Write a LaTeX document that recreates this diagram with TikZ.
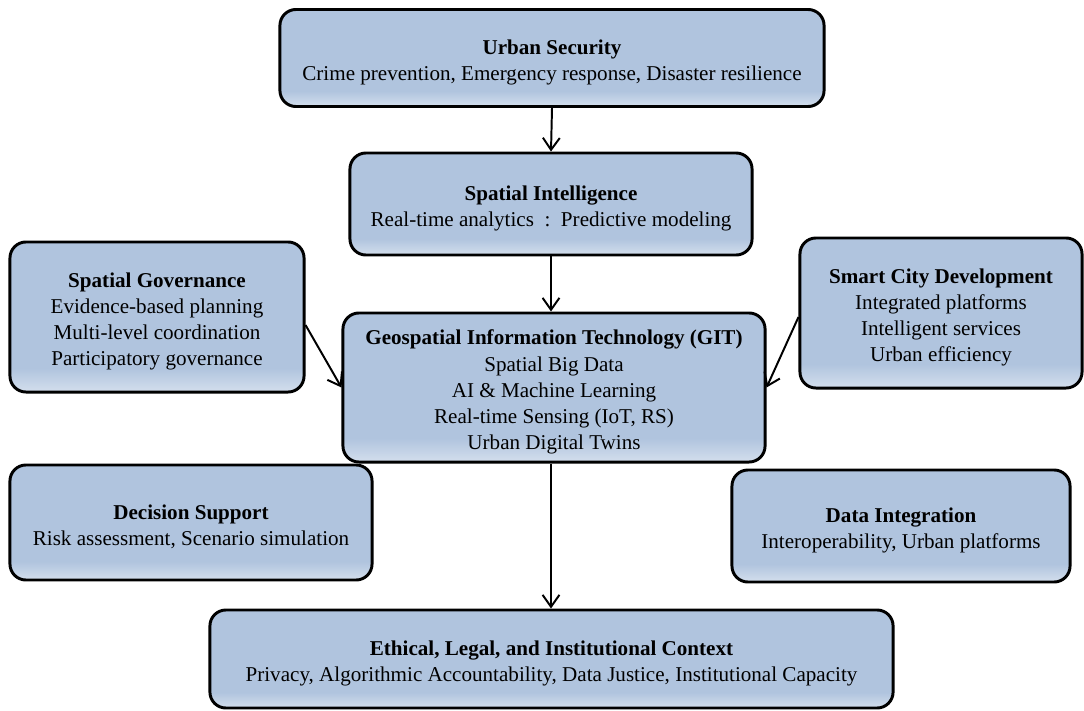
\documentclass[tikz,border=0pt]{standalone}
\usepackage{fontspec}
\setmainfont{Liberation Serif}
\newfontfamily\boxfont{Liberation Serif}
\usepackage{tikz}
\usetikzlibrary{arrows.meta}
\definecolor{boxblue}{HTML}{B0C4DE}
\pgfdeclareverticalshading{boxshade}{100bp}{color(0bp)=(boxblue!55!white); color(25bp)=(boxblue!55!white); color(33bp)=(boxblue); color(100bp)=(boxblue)}
\newcommand\boxtitle[1]{\rule{0pt}{17pt}\textbf{#1}}

\begin{document}
\begin{tikzpicture}[x=0.025cm, y=-0.025cm,
  box/.style={draw=black, line width=2.1pt, rounded corners=0.4cm, shading=boxshade, align=center, inner sep=0pt, font=\boxfont\fontsize{15}{18.6}\selectfont},
  link/.style={draw=black, line width=1.4pt, -{Straight Barb[length=8.5pt, width=12pt, line width=1.4pt]}}]
  \useasboundingbox (0,0) rectangle (1084,710);
  \node[box, minimum width=13.6cm, minimum height=2.425cm] (sec) at (552,58) {\boxtitle{Urban Security}\\Crime prevention, Emergency response, Disaster resilience};
  \node[box, minimum width=10.05cm, minimum height=2.55cm] (intel) at (551,204) {\boxtitle{Spatial Intelligence}\\Real-time analytics\ \ :\ \ Predictive modeling};
  \node[box, minimum width=7.35cm, minimum height=3.75cm] (gov) at (157,317) {\boxtitle{Spatial Governance}\\Evidence-based planning\\Multi-level coordination\\Participatory governance};
  \node[box, minimum width=7.05cm, minimum height=3.75cm] (smart) at (941,313) {\boxtitle{Smart City Development}\\Integrated platforms\\Intelligent services\\Urban efficiency};
  \node[box, minimum width=10.55cm, minimum height=3.725cm] (git) at (554,387.5) {\boxtitle{Geospatial Information Technology (GIT)}\\Spatial Big Data\\AI \& Machine Learning\\Real-time Sensing (IoT, RS)\\Urban Digital Twins};
  \node[box, minimum width=9.05cm, minimum height=2.875cm] (dec) at (191,522.5) {\boxtitle{Decision Support}\\Risk assessment, Scenario simulation};
  \node[box, minimum width=8.45cm, minimum height=2.8cm] (data) at (901,526) {\boxtitle{Data Integration}\\Interoperability, Urban platforms};
  \node[box, minimum width=17.075cm, minimum height=2.45cm] (eth) at (551.5,659) {\boxtitle{Ethical, Legal, and Institutional Context}\\Privacy, Algorithmic Accountability, Data Justice, Institutional Capacity};
  \draw[link] (sec.south) -- (intel.south |- intel.north);
  \draw[link] (intel.south) -- (intel.south |- git.north);
  \draw[link] (intel.south |- git.south) -- (intel.south |- eth.north);
  \draw[link] ([yshift=-0.2cm]gov.east) -- (git.west);
  \draw[link] ([yshift=-0.1cm]smart.west) -- (git.east);
\end{tikzpicture}
\end{document}
